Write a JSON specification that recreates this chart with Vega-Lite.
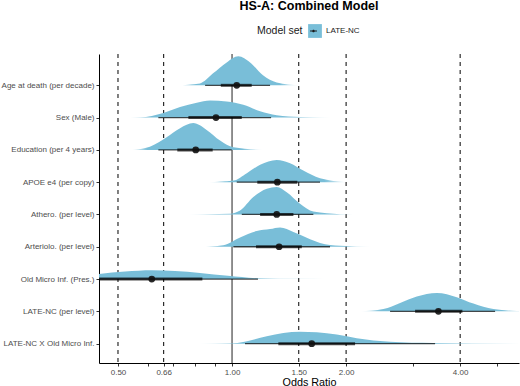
{
  "$schema": "https://vega.github.io/schema/vega-lite/v6.json",
  "width": 420,
  "height": 309,
  "autosize": {"type": "none"},
  "padding": {"left": 99, "top": 54, "right": 1, "bottom": 23},
  "background": "white",
  "title": {"text": "HS-A: Combined Model", "font": "Liberation Sans", "fontSize": 12.5, "fontWeight": "bold", "color": "black", "anchor": "middle", "frame": "group", "baseline": "alphabetic", "offset": 2},
  "config": {
    "view": {"stroke": null},
    "font": "Liberation Sans",
    "axis": {"labelOverlap": false, "labelFlush": false, "grid": false, "labelFont": "Liberation Sans", "labelFontSize": 8, "labelColor": "#4d4d4d", "labelPadding": 2, "tickSize": 3, "tickColor": "#333333", "domainColor": "black", "domainWidth": 1}
  },
  "datasets": {
    "dens": [
      {"term": "Age", "idx": 9, "or": 0.714, "d": 0},
      {"term": "Age", "idx": 9, "or": 0.823, "d": 0.06},
      {"term": "Age", "idx": 9, "or": 0.891, "d": 0.37},
      {"term": "Age", "idx": 9, "or": 0.968, "d": 0.71},
      {"term": "Age", "idx": 9, "or": 1.039, "d": 0.9},
      {"term": "Age", "idx": 9, "or": 1.116, "d": 0.71},
      {"term": "Age", "idx": 9, "or": 1.207, "d": 0.31},
      {"term": "Age", "idx": 9, "or": 1.312, "d": 0.09},
      {"term": "Age", "idx": 9, "or": 1.512, "d": 0},
      {"term": "Sex", "idx": 8, "or": 0.506, "d": 0},
      {"term": "Sex", "idx": 8, "or": 0.572, "d": 0.01},
      {"term": "Sex", "idx": 8, "or": 0.659, "d": 0.145},
      {"term": "Sex", "idx": 8, "or": 0.729, "d": 0.33},
      {"term": "Sex", "idx": 8, "or": 0.807, "d": 0.46},
      {"term": "Sex", "idx": 8, "or": 0.875, "d": 0.53},
      {"term": "Sex", "idx": 8, "or": 0.968, "d": 0.5},
      {"term": "Sex", "idx": 8, "or": 1.071, "d": 0.4},
      {"term": "Sex", "idx": 8, "or": 1.186, "d": 0.195},
      {"term": "Sex", "idx": 8, "or": 1.312, "d": 0.07},
      {"term": "Sex", "idx": 8, "or": 1.512, "d": 0.015},
      {"term": "Sex", "idx": 8, "or": 1.848, "d": 0},
      {"term": "Edu", "idx": 7, "or": 0.543, "d": 0},
      {"term": "Edu", "idx": 7, "or": 0.607, "d": 0.1},
      {"term": "Edu", "idx": 7, "or": 0.672, "d": 0.39},
      {"term": "Edu", "idx": 7, "or": 0.729, "d": 0.67},
      {"term": "Edu", "idx": 7, "or": 0.79, "d": 0.83},
      {"term": "Edu", "idx": 7, "or": 0.857, "d": 0.62},
      {"term": "Edu", "idx": 7, "or": 0.93, "d": 0.29},
      {"term": "Edu", "idx": 7, "or": 1.008, "d": 0.08},
      {"term": "Edu", "idx": 7, "or": 1.209, "d": 0},
      {"term": "APOE", "idx": 6, "or": 0.866, "d": 0},
      {"term": "APOE", "idx": 6, "or": 1.008, "d": 0.05},
      {"term": "APOE", "idx": 6, "or": 1.094, "d": 0.28},
      {"term": "APOE", "idx": 6, "or": 1.186, "d": 0.54},
      {"term": "APOE", "idx": 6, "or": 1.312, "d": 0.69},
      {"term": "APOE", "idx": 6, "or": 1.423, "d": 0.59},
      {"term": "APOE", "idx": 6, "or": 1.542, "d": 0.36},
      {"term": "APOE", "idx": 6, "or": 1.707, "d": 0.12},
      {"term": "APOE", "idx": 6, "or": 2.008, "d": 0},
      {"term": "Athero", "idx": 5, "or": 0.759, "d": 0},
      {"term": "Athero", "idx": 5, "or": 0.988, "d": 0.02},
      {"term": "Athero", "idx": 5, "or": 1.05, "d": 0.12},
      {"term": "Athero", "idx": 5, "or": 1.138, "d": 0.54},
      {"term": "Athero", "idx": 5, "or": 1.235, "d": 0.8},
      {"term": "Athero", "idx": 5, "or": 1.312, "d": 0.85},
      {"term": "Athero", "idx": 5, "or": 1.394, "d": 0.69},
      {"term": "Athero", "idx": 5, "or": 1.512, "d": 0.33},
      {"term": "Athero", "idx": 5, "or": 1.639, "d": 0.09},
      {"term": "Athero", "idx": 5, "or": 1.928, "d": 0.01},
      {"term": "Athero", "idx": 5, "or": 2.268, "d": 0},
      {"term": "Arterio", "idx": 4, "or": 0.823, "d": 0},
      {"term": "Arterio", "idx": 4, "or": 0.948, "d": 0.05},
      {"term": "Arterio", "idx": 4, "or": 1.05, "d": 0.29},
      {"term": "Arterio", "idx": 4, "or": 1.162, "d": 0.49},
      {"term": "Arterio", "idx": 4, "or": 1.26, "d": 0.55},
      {"term": "Arterio", "idx": 4, "or": 1.339, "d": 0.6},
      {"term": "Arterio", "idx": 4, "or": 1.452, "d": 0.46},
      {"term": "Arterio", "idx": 4, "or": 1.575, "d": 0.28},
      {"term": "Arterio", "idx": 4, "or": 1.707, "d": 0.12},
      {"term": "Arterio", "idx": 4, "or": 1.928, "d": 0.03},
      {"term": "Arterio", "idx": 4, "or": 2.357, "d": 0},
      {"term": "OldMicro", "idx": 3, "or": 0.397, "d": 0.11},
      {"term": "OldMicro", "idx": 3, "or": 0.4455, "d": 0.16},
      {"term": "OldMicro", "idx": 3, "or": 0.522, "d": 0.23},
      {"term": "OldMicro", "idx": 3, "or": 0.615, "d": 0.27},
      {"term": "OldMicro", "idx": 3, "or": 0.707, "d": 0.25},
      {"term": "OldMicro", "idx": 3, "or": 0.823, "d": 0.19},
      {"term": "OldMicro", "idx": 3, "or": 0.976, "d": 0.1},
      {"term": "OldMicro", "idx": 3, "or": 1.171, "d": 0.025},
      {"term": "OldMicro", "idx": 3, "or": 1.512, "d": 0.006},
      {"term": "OldMicro", "idx": 3, "or": 1.792, "d": 0},
      {"term": "LATE", "idx": 2, "or": 2.178, "d": 0},
      {"term": "LATE", "idx": 2, "or": 2.509, "d": 0.07},
      {"term": "LATE", "idx": 2, "or": 2.777, "d": 0.26},
      {"term": "LATE", "idx": 2, "or": 3.073, "d": 0.46},
      {"term": "LATE", "idx": 2, "or": 3.471, "d": 0.57},
      {"term": "LATE", "idx": 2, "or": 3.92, "d": 0.44},
      {"term": "LATE", "idx": 2, "or": 4.336, "d": 0.24},
      {"term": "LATE", "idx": 2, "or": 4.896, "d": 0.07},
      {"term": "LATE", "idx": 2, "or": 5.644, "d": 0.01},
      {"term": "LATE", "idx": 2, "or": 6.2, "d": 0},
      {"term": "LATEX", "idx": 1, "or": 0.807, "d": 0},
      {"term": "LATEX", "idx": 1, "or": 1.008, "d": 0.015},
      {"term": "LATEX", "idx": 1, "or": 1.116, "d": 0.1},
      {"term": "LATEX", "idx": 1, "or": 1.235, "d": 0.23},
      {"term": "LATEX", "idx": 1, "or": 1.366, "d": 0.33},
      {"term": "LATEX", "idx": 1, "or": 1.512, "d": 0.37},
      {"term": "LATEX", "idx": 1, "or": 1.673, "d": 0.35},
      {"term": "LATEX", "idx": 1, "or": 1.89, "d": 0.28},
      {"term": "LATEX", "idx": 1, "or": 2.134, "d": 0.17},
      {"term": "LATEX", "idx": 1, "or": 2.613, "d": 0.06},
      {"term": "LATEX", "idx": 1, "or": 3.393, "d": 0.02},
      {"term": "LATEX", "idx": 1, "or": 5.76, "d": 0}
    ],
    "ints": [
      {"term": "Age", "idx": 9, "lo95": 0.849, "hi95": 1.26, "lo66": 0.934, "hi66": 1.127, "med": 1.029},
      {"term": "Sex", "idx": 8, "lo95": 0.639, "hi95": 1.268, "lo66": 0.767, "hi66": 1.061, "med": 0.907},
      {"term": "Edu", "idx": 7, "lo95": 0.639, "hi95": 0.998, "lo66": 0.717, "hi66": 0.889, "med": 0.802},
      {"term": "APOE", "idx": 6, "lo95": 1.029, "hi95": 1.707, "lo66": 1.166, "hi66": 1.487, "med": 1.317},
      {"term": "Athero", "idx": 5, "lo95": 1.061, "hi95": 1.639, "lo66": 1.186, "hi66": 1.452, "med": 1.312},
      {"term": "Arterio", "idx": 4, "lo95": 1.008, "hi95": 1.814, "lo66": 1.157, "hi66": 1.528, "med": 1.331},
      {"term": "OldMicro", "idx": 3, "lo95": 0.35, "hi95": 1.171, "lo66": 0.38, "hi66": 0.835, "med": 0.614},
      {"term": "LATE", "idx": 2, "lo95": 2.613, "hi95": 4.947, "lo66": 3.042, "hi66": 4.055, "med": 3.505},
      {"term": "LATEX", "idx": 1, "lo95": 1.082, "hi95": 3.435, "lo66": 1.325, "hi66": 2.112, "med": 1.623}
    ]
  },
  "layer": [
    {
      "data": {"values": [{"or": 0.5}, {"or": 0.66}, {"or": 1.5}, {"or": 2}, {"or": 4}]},
      "mark": {"type": "rule", "color": "black", "strokeWidth": 1, "strokeDash": [4, 4]},
      "encoding": {
        "x": {"field": "or", "type": "quantitative", "scale": {"type": "log", "domain": [0.4455, 5.72], "nice": false, "zero": false},
          "axis": {"title": "Odds Ratio", "titleFont": "Liberation Sans", "titleFontSize": 10.8, "titleFontWeight": "normal", "titleColor": "black", "titlePadding": 0,
            "values": [0.5, 0.6, 0.66, 0.7, 0.8, 0.9, 1, 1.5, 2, 3, 4, 5],
            "labelExpr": "indexof([0.5, 0.66, 1, 1.5, 2, 4], datum.value) >= 0 ? format(datum.value, '.2f') : ''"}}
      }
    },
    {
      "data": {"values": [{"or": 1}]},
      "mark": {"type": "rule", "color": "#222222", "strokeWidth": 1},
      "encoding": {
        "x": {"field": "or", "type": "quantitative", "scale": {"type": "log", "domain": [0.4455, 5.72], "nice": false, "zero": false},
          "axis": {"title": "Odds Ratio", "titleFont": "Liberation Sans", "titleFontSize": 10.8, "titleFontWeight": "normal", "titleColor": "black", "titlePadding": 0,
            "values": [0.5, 0.6, 0.66, 0.7, 0.8, 0.9, 1, 1.5, 2, 3, 4, 5],
            "labelExpr": "indexof([0.5, 0.66, 1, 1.5, 2, 4], datum.value) >= 0 ? format(datum.value, '.2f') : ''"}}
      }
    },
    {
      "data": {"name": "dens"},
      "transform": [{"filter": "datum.term != 'OldMicro'"}, {"calculate": "datum.idx + datum.d", "as": "top"}],
      "mark": {"type": "area", "interpolate": "monotone", "clip": true,
        "fill": {"gradient": "linear", "x1": 0, "x2": 1, "y1": 0, "y2": 0, "stops": [
          {"offset": 0, "color": "rgba(121,190,216,0)"},
          {"offset": 0.12, "color": "rgba(121,190,216,1)"},
          {"offset": 0.84, "color": "rgba(121,190,216,1)"},
          {"offset": 1, "color": "rgba(121,190,216,0)"}]}},
      "encoding": {
        "x": {"field": "or", "type": "quantitative", "scale": {"type": "log", "domain": [0.4455, 5.72], "nice": false, "zero": false},
          "axis": {"title": "Odds Ratio", "titleFont": "Liberation Sans", "titleFontSize": 10.8, "titleFontWeight": "normal", "titleColor": "black", "titlePadding": 0,
            "values": [0.5, 0.6, 0.66, 0.7, 0.8, 0.9, 1, 1.5, 2, 3, 4, 5],
            "labelExpr": "indexof([0.5, 0.66, 1, 1.5, 2, 4], datum.value) >= 0 ? format(datum.value, '.2f') : ''"}},
        "y": {"field": "top", "type": "quantitative", "scale": {"domain": [0.4, 9.97], "nice": false, "zero": false},
          "axis": {"title": null, "values": [1, 2, 3, 4, 5, 6, 7, 8, 9],
            "labelExpr": "['', 'LATE-NC X Old Micro Inf.', 'LATE-NC (per level)', 'Old Micro Inf. (Pres.)', 'Arteriolo. (per level)', 'Athero. (per level)', 'APOE e4 (per copy)', 'Education (per 4 years)', 'Sex (Male)', 'Age at death (per decade)'][datum.value]"}},
        "y2": {"field": "idx"},
        "detail": {"field": "term"}
      }
    },
    {
      "data": {"name": "dens"},
      "transform": [{"filter": "datum.term == 'OldMicro'"}, {"calculate": "datum.idx + datum.d", "as": "top"}],
      "mark": {"type": "area", "interpolate": "monotone", "clip": true,
        "fill": {"gradient": "linear", "x1": 0, "x2": 1, "y1": 0, "y2": 0, "stops": [
          {"offset": 0, "color": "rgba(121,190,216,1)"},
          {"offset": 0.65, "color": "rgba(121,190,216,1)"},
          {"offset": 1, "color": "rgba(121,190,216,0)"}]}},
      "encoding": {
        "x": {"field": "or", "type": "quantitative", "scale": {"type": "log", "domain": [0.4455, 5.72], "nice": false, "zero": false},
          "axis": {"title": "Odds Ratio", "titleFont": "Liberation Sans", "titleFontSize": 10.8, "titleFontWeight": "normal", "titleColor": "black", "titlePadding": 0,
            "values": [0.5, 0.6, 0.66, 0.7, 0.8, 0.9, 1, 1.5, 2, 3, 4, 5],
            "labelExpr": "indexof([0.5, 0.66, 1, 1.5, 2, 4], datum.value) >= 0 ? format(datum.value, '.2f') : ''"}},
        "y": {"field": "top", "type": "quantitative", "scale": {"domain": [0.4, 9.97], "nice": false, "zero": false},
          "axis": {"title": null, "values": [1, 2, 3, 4, 5, 6, 7, 8, 9],
            "labelExpr": "['', 'LATE-NC X Old Micro Inf.', 'LATE-NC (per level)', 'Old Micro Inf. (Pres.)', 'Arteriolo. (per level)', 'Athero. (per level)', 'APOE e4 (per copy)', 'Education (per 4 years)', 'Sex (Male)', 'Age at death (per decade)'][datum.value]"}},
        "y2": {"field": "idx"},
        "detail": {"field": "term"}
      }
    },
    {
      "data": {"name": "ints"},
      "mark": {"type": "rule", "color": "black", "opacity": 0.7, "strokeWidth": 1.3, "clip": true},
      "encoding": {
        "x": {"field": "lo95", "type": "quantitative", "scale": {"type": "log", "domain": [0.4455, 5.72], "nice": false, "zero": false},
          "axis": {"title": "Odds Ratio", "titleFont": "Liberation Sans", "titleFontSize": 10.8, "titleFontWeight": "normal", "titleColor": "black", "titlePadding": 0,
            "values": [0.5, 0.6, 0.66, 0.7, 0.8, 0.9, 1, 1.5, 2, 3, 4, 5],
            "labelExpr": "indexof([0.5, 0.66, 1, 1.5, 2, 4], datum.value) >= 0 ? format(datum.value, '.2f') : ''"}},
        "x2": {"field": "hi95"},
        "y": {"field": "idx", "type": "quantitative", "scale": {"domain": [0.4, 9.97], "nice": false, "zero": false},
          "axis": {"title": null, "values": [1, 2, 3, 4, 5, 6, 7, 8, 9],
            "labelExpr": "['', 'LATE-NC X Old Micro Inf.', 'LATE-NC (per level)', 'Old Micro Inf. (Pres.)', 'Arteriolo. (per level)', 'Athero. (per level)', 'APOE e4 (per copy)', 'Education (per 4 years)', 'Sex (Male)', 'Age at death (per decade)'][datum.value]"}}
      }
    },
    {
      "data": {"name": "ints"},
      "mark": {"type": "rule", "color": "black", "opacity": 0.7, "strokeWidth": 3, "clip": true},
      "encoding": {
        "x": {"field": "lo66", "type": "quantitative", "scale": {"type": "log", "domain": [0.4455, 5.72], "nice": false, "zero": false},
          "axis": {"title": "Odds Ratio", "titleFont": "Liberation Sans", "titleFontSize": 10.8, "titleFontWeight": "normal", "titleColor": "black", "titlePadding": 0,
            "values": [0.5, 0.6, 0.66, 0.7, 0.8, 0.9, 1, 1.5, 2, 3, 4, 5],
            "labelExpr": "indexof([0.5, 0.66, 1, 1.5, 2, 4], datum.value) >= 0 ? format(datum.value, '.2f') : ''"}},
        "x2": {"field": "hi66"},
        "y": {"field": "idx", "type": "quantitative", "scale": {"domain": [0.4, 9.97], "nice": false, "zero": false},
          "axis": {"title": null, "values": [1, 2, 3, 4, 5, 6, 7, 8, 9],
            "labelExpr": "['', 'LATE-NC X Old Micro Inf.', 'LATE-NC (per level)', 'Old Micro Inf. (Pres.)', 'Arteriolo. (per level)', 'Athero. (per level)', 'APOE e4 (per copy)', 'Education (per 4 years)', 'Sex (Male)', 'Age at death (per decade)'][datum.value]"}}
      }
    },
    {
      "data": {"name": "ints"},
      "mark": {"type": "point", "filled": true, "color": "#111111", "opacity": 0.9, "size": 45, "clip": true},
      "encoding": {
        "x": {"field": "med", "type": "quantitative", "scale": {"type": "log", "domain": [0.4455, 5.72], "nice": false, "zero": false},
          "axis": {"title": "Odds Ratio", "titleFont": "Liberation Sans", "titleFontSize": 10.8, "titleFontWeight": "normal", "titleColor": "black", "titlePadding": 0,
            "values": [0.5, 0.6, 0.66, 0.7, 0.8, 0.9, 1, 1.5, 2, 3, 4, 5],
            "labelExpr": "indexof([0.5, 0.66, 1, 1.5, 2, 4], datum.value) >= 0 ? format(datum.value, '.2f') : ''"}},
        "y": {"field": "idx", "type": "quantitative", "scale": {"domain": [0.4, 9.97], "nice": false, "zero": false},
          "axis": {"title": null, "values": [1, 2, 3, 4, 5, 6, 7, 8, 9],
            "labelExpr": "['', 'LATE-NC X Old Micro Inf.', 'LATE-NC (per level)', 'Old Micro Inf. (Pres.)', 'Arteriolo. (per level)', 'Athero. (per level)', 'APOE e4 (per copy)', 'Education (per 4 years)', 'Sex (Male)', 'Age at death (per decade)'][datum.value]"}}
      }
    },
    {
      "data": {"name": "ints"},
      "transform": [{"calculate": "'LATE-NC'", "as": "model"}, {"calculate": "'LATE-NC'", "as": "glyph"}],
      "mark": {"type": "point", "filled": true, "opacity": 0, "size": 190},
      "encoding": {
        "x": {"field": "med", "type": "quantitative", "scale": {"type": "log", "domain": [0.4455, 5.72], "nice": false, "zero": false},
          "axis": {"title": "Odds Ratio", "titleFont": "Liberation Sans", "titleFontSize": 10.8, "titleFontWeight": "normal", "titleColor": "black", "titlePadding": 0,
            "values": [0.5, 0.6, 0.66, 0.7, 0.8, 0.9, 1, 1.5, 2, 3, 4, 5],
            "labelExpr": "indexof([0.5, 0.66, 1, 1.5, 2, 4], datum.value) >= 0 ? format(datum.value, '.2f') : ''"}},
        "y": {"field": "idx", "type": "quantitative", "scale": {"domain": [0.4, 9.97], "nice": false, "zero": false},
          "axis": {"title": null, "values": [1, 2, 3, 4, 5, 6, 7, 8, 9],
            "labelExpr": "['', 'LATE-NC X Old Micro Inf.', 'LATE-NC (per level)', 'Old Micro Inf. (Pres.)', 'Arteriolo. (per level)', 'Athero. (per level)', 'APOE e4 (per copy)', 'Education (per 4 years)', 'Sex (Male)', 'Age at death (per decade)'][datum.value]"}},
        "color": {"field": "model", "type": "nominal", "scale": {"range": ["#79BED8"]},
          "legend": {"title": "Model set", "orient": "none", "legendX": 158, "legendY": -30, "direction": "horizontal", "titleOrient": "left",
            "titleFont": "Liberation Sans", "titleFontSize": 10.5, "titleFontWeight": "normal", "titleColor": "#1a1a1a",
            "labelFont": "Liberation Sans", "labelFontSize": 8, "labelColor": "#1a1a1a",
            "symbolType": "square", "symbolSize": 190, "symbolStrokeWidth": 0, "symbolOpacity": 1}},
        "shape": {"field": "glyph", "type": "nominal",
          "scale": {"range": ["M-0.5,-0.07L0.5,-0.07L0.5,0.07L-0.5,0.07Z M0.19,0A0.19,0.19,0,1,1,-0.19,0A0.19,0.19,0,1,1,0.19,0Z"]},
          "legend": {"title": null, "orient": "none", "legendX": 207.5, "legendY": -30, "labelExpr": "''", "padding": 0,
            "symbolFillColor": "#1a1a1a", "symbolStrokeColor": "#1a1a1a", "symbolStrokeWidth": 0, "symbolOpacity": 1, "symbolSize": 190}}
      }
    }
  ]
}
